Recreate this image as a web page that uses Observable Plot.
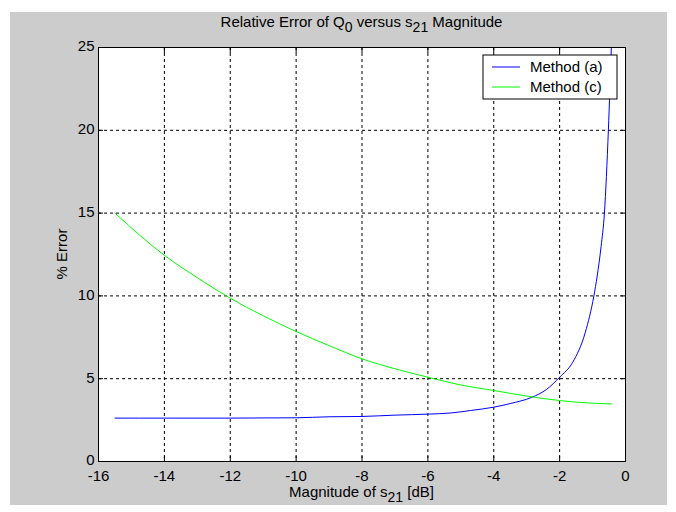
<!DOCTYPE html>
<html><head><meta charset="utf-8">
<script src="https://cdn.jsdelivr.net/npm/d3@7"></script>
<script src="https://cdn.jsdelivr.net/npm/@observablehq/plot@0.6"></script>
<style>
html,body{margin:0;padding:0;background:#fff;}
#wrap{position:relative;width:676px;height:512px;overflow:hidden;}
#bg{position:absolute;left:10px;top:12px;width:657px;height:493px;background:#cccccc;}
#chart{position:absolute;left:0;top:0;}
</style></head><body>
<div id="wrap"><div id="bg"></div><div id="chart"></div></div>
<script>
// Method (a) — blue
const methodA_x = [-15.5, -14, -12, -10, -9, -8, -7, -6, -5.3, -4.7, -4, -3.5, -2.84, -2.4, -2, -1.6, -1.22, -0.96, -0.86, -0.74, -0.64, -0.52, -0.43];
const methodA_y = [2.62, 2.62, 2.62, 2.64, 2.7, 2.72, 2.8, 2.86, 2.93, 3.08, 3.28, 3.5, 3.88, 4.35, 5.09, 6.0, 7.8, 10.0, 11.2, 13.0, 15.0, 20.0, 25.0];
// Method (c) — green
const methodC_x = [-15.5, -14, -13, -12, -11, -10, -9, -8, -7, -6, -5, -4, -3, -2, -1, -0.43];
const methodC_y = [15.0, 12.45, 11.1, 9.86, 8.8, 7.85, 7.0, 6.2, 5.6, 5.09, 4.62, 4.29, 3.95, 3.68, 3.52, 3.48];

const seriesNames = ["Method (a)", "Method (c)"];
const seriesColors = ["#0000ff", "#00ff00"];
const xTicks = [-16, -14, -12, -10, -8, -6, -4, -2, 0];
const yTicks = [0, 5, 10, 15, 20, 25];

const rows = [
  ...methodA_x.map((x, i) => ({x, y: methodA_y[i], s: seriesNames[0]})),
  ...methodC_x.map((x, i) => ({x, y: methodC_y[i], s: seriesNames[1]}))
];

const font = "'Liberation Sans', Arial, Helvetica, sans-serif";
const FS = 15;
const W = 676, H = 512, mL = 98, mR = 51, mT = 47, mB = 51;

const plot = Plot.plot({
  width: W, height: H,
  marginLeft: mL, marginRight: mR, marginTop: mT, marginBottom: mB,
  style: {background: "transparent", fontFamily: font, fontSize: FS + "px", color: "#000", overflow: "visible"},
  x: {domain: [-16, 0], ticks: xTicks, label: null, tickFormat: d => String(d)},
  y: {domain: [0, 25], ticks: yTicks, label: null, tickFormat: d => String(d)},
  color: {domain: seriesNames, range: seriesColors},
  marks: [
    Plot.frame({fill: "white", stroke: null}),
    Plot.gridX(xTicks.slice(1, -1), {stroke: "#000", strokeOpacity: 1, strokeDasharray: "3,3"}),
    Plot.gridY(yTicks.slice(1, -1), {stroke: "#000", strokeOpacity: 1, strokeDasharray: "3,3"}),
    Plot.line(rows, {x: "x", y: "y", z: "s", stroke: "s", strokeWidth: 1, curve: "monotone-x", clip: true}),
    Plot.axisX(xTicks, {anchor: "bottom", tickSize: 0, tickPadding: 9, fill: "#000", tickFormat: d => String(d)}),
    Plot.axisX(xTicks, {anchor: "bottom", tickSize: -5, text: null, stroke: "#000"}),
    Plot.axisX(xTicks, {anchor: "top", tickSize: -5, text: null, stroke: "#000"}),
    Plot.axisY(yTicks, {anchor: "left", tickSize: 0, tickPadding: 4, fill: "#000", dy: -1, tickFormat: d => String(d)}),
    Plot.axisY(yTicks, {anchor: "left", tickSize: -5, text: null, stroke: "#000"}),
    Plot.axisY(yTicks, {anchor: "right", tickSize: -5, text: null, stroke: "#000"}),
    Plot.frame({stroke: "#000", strokeWidth: 1})
  ]
});
document.getElementById("chart").appendChild(plot);

const svg = d3.select(plot);
const cx = (mL + (W - mR)) / 2;

function subText(parent, x, y, parts, size) {
  const t = parent.append("text").attr("x", x).attr("y", y).attr("text-anchor", "middle")
    .attr("font-family", font).attr("font-size", size).attr("fill", "#000");
  let shifted = false;
  parts.forEach(p => {
    const ts = t.append("tspan").text(p.t);
    if (p.sub && !shifted) { ts.attr("dy", 5).attr("font-size", size - 1); shifted = true; }
    else if (p.sub) { ts.attr("font-size", size - 1); }
    else if (shifted) { ts.attr("dy", -5); shifted = false; }
  });
  return t;
}

// Title
subText(svg, cx, 27, [
  {t: "Relative Error of Q"}, {t: "0", sub: true}, {t: " versus s"}, {t: "21", sub: true}, {t: " Magnitude"}
], FS);
// X label
subText(svg, cx, 497, [
  {t: "Magnitude of s"}, {t: "21", sub: true}, {t: " [dB]"}
], FS);
// Y label
svg.append("text").attr("transform", `translate(67,${(mT + H - mB) / 2}) rotate(-90)`)
  .attr("text-anchor", "middle").attr("font-family", font).attr("font-size", FS).attr("fill", "#000")
  .text("% Error");

// Legend (north-east inside the axes)
const lgW = 134, lgH = 44, lgX = W - mR - 8 - lgW, lgY = mT + 8;
const lg = svg.append("g").attr("transform", `translate(${lgX},${lgY})`);
lg.append("rect").attr("width", lgW).attr("height", lgH).attr("fill", "#fff").attr("stroke", "#000");
seriesNames.forEach((name, i) => {
  const yy = 12 + i * 20;
  lg.append("line").attr("x1", 9).attr("x2", 37).attr("y1", yy).attr("y2", yy)
    .attr("stroke", seriesColors[i]).attr("stroke-width", 1);
  lg.append("text").attr("x", 47).attr("y", yy + 5).attr("text-anchor", "start")
    .attr("font-family", font).attr("font-size", FS).attr("fill", "#000").text(name);
});
</script>
</body></html>
